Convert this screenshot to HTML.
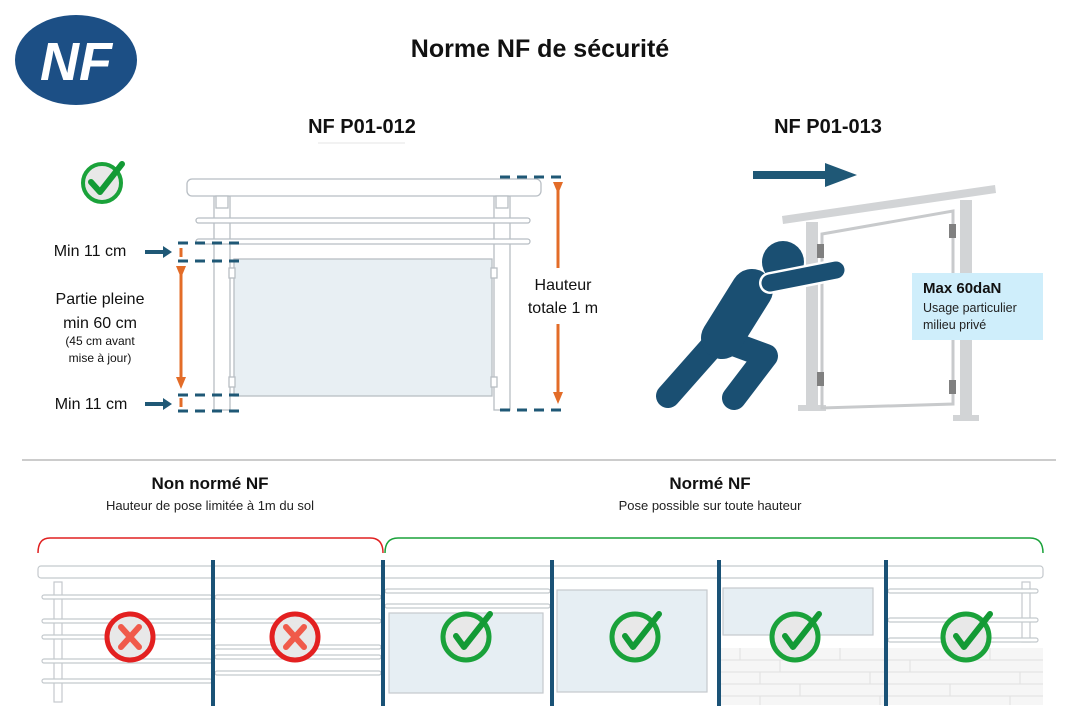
<!DOCTYPE html>
<html><head><meta charset="utf-8"><style>
html,body{margin:0;padding:0;background:#fff;}
svg{display:block;font-family:"Liberation Sans",sans-serif;}
</style></head><body>
<svg width="1080" height="720" viewBox="0 0 1080 720" xmlns="http://www.w3.org/2000/svg">
<defs>
<marker id="ob" markerUnits="userSpaceOnUse" markerWidth="12" markerHeight="12" refX="6" refY="6" orient="auto"><path d="M0,1 L12,6 L0,11 z" fill="#e36c28"/></marker>
</defs>
<!-- logo -->
<ellipse cx="76" cy="60" rx="61" ry="45" fill="#1c4f85"/>
<text x="76" y="80" text-anchor="middle" font-size="54" font-weight="bold" font-style="italic" fill="#fff">NF</text>
<text x="540" y="57" text-anchor="middle" font-size="25" font-weight="bold" fill="#111">Norme NF de sécurité</text>
<text x="362" y="133" text-anchor="middle" font-size="20" font-weight="bold" fill="#111">NF P01-012</text>
<text x="828" y="133" text-anchor="middle" font-size="20" font-weight="bold" fill="#111">NF P01-013</text>
<line x1="318" y1="143" x2="405" y2="143" stroke="#eee" stroke-width="1.5"/>

<!-- check top left -->
<circle cx="102" cy="183" r="19" fill="#e8e8e8" stroke="#1aa23a" stroke-width="4"/>
<path d="M91,182 L100,192 L122,164" fill="none" stroke="#139a35" stroke-width="6" stroke-linecap="round" stroke-linejoin="round"/>

<!-- left railing -->
<g stroke="#b8bec4" fill="#fff" stroke-width="1.3">
<rect x="214" y="196" width="16" height="214"/>
<rect x="494" y="196" width="16" height="214"/>
<rect x="196" y="218" width="334" height="5" rx="2.5"/>
<rect x="196" y="239" width="334" height="5" rx="2.5"/>
<rect x="187" y="179" width="354" height="17" rx="5"/>
<rect x="234" y="259" width="258" height="137" fill="#e8eff3"/>
<rect x="229" y="268" width="6" height="10"/><rect x="229" y="377" width="6" height="10"/>
<rect x="491" y="268" width="6" height="10"/><rect x="491" y="377" width="6" height="10"/>
<rect x="216" y="196" width="12" height="12"/><rect x="496" y="196" width="12" height="12"/>
</g>
<g stroke="#1f5876" stroke-width="3" stroke-dasharray="10,7">
<line x1="178" y1="243" x2="246" y2="243"/>
<line x1="178" y1="261" x2="246" y2="261"/>
<line x1="178" y1="395" x2="246" y2="395"/>
<line x1="178" y1="411" x2="246" y2="411"/>
<line x1="500" y1="177" x2="566" y2="177"/>
<line x1="500" y1="410" x2="566" y2="410"/>
</g>
<g stroke="#e36c28" stroke-width="3">
<line x1="181" y1="248" x2="181" y2="257"/>
<line x1="181" y1="398" x2="181" y2="407"/>
<line x1="181" y1="272" x2="181" y2="383" marker-start="url(#ob)" marker-end="url(#ob)"/>
<line x1="558" y1="188" x2="558" y2="268" marker-start="url(#ob)"/>
<line x1="558" y1="324" x2="558" y2="398" marker-end="url(#ob)"/>
</g>
<g fill="#1f5876"><path d="M145,250 h18 v-4 l9,6 l-9,6 v-4 h-18z"/><path d="M145,402 h18 v-4 l9,6 l-9,6 v-4 h-18z"/></g>
<g font-size="16" fill="#111" text-anchor="middle">
<text x="90" y="256">Min 11 cm</text>
<text x="91" y="409">Min 11 cm</text>
<text x="100" y="304">Partie pleine</text>
<text x="100" y="328">min 60 cm</text>
<text x="100" y="345" font-size="12">(45 cm avant</text>
<text x="100" y="362" font-size="12">mise à jour)</text>
<text x="563" y="290">Hauteur</text>
<text x="563" y="313">totale 1 m</text>
</g>

<!-- right figure -->
<path d="M753,171 h72 v-8 l32,12 l-32,12 v-8 h-72z" fill="#1f5876"/>
<g fill="#d2d4d6">
<rect x="806" y="222" width="12" height="188"/>
<rect x="960" y="200" width="12" height="220"/>
<rect x="798" y="405" width="28" height="6"/><rect x="953" y="415" width="26" height="6"/>
<path d="M782,216 L995,185 L996,193 L783,224z"/>
</g>
<path d="M822,234 L953,211 L953,404 L822,408z" fill="none" stroke="#c8cacc" stroke-width="3"/>
<g fill="#808080"><rect x="817" y="244" width="7" height="14"/><rect x="817" y="372" width="7" height="14"/><rect x="949" y="224" width="7" height="14"/><rect x="949" y="380" width="7" height="14"/></g>
<rect x="912" y="273" width="131" height="67" fill="#cfeefb"/>
<text x="923" y="293" font-size="15" font-weight="bold" fill="#111">Max 60daN</text>
<text x="923" y="312" font-size="12.5" fill="#222">Usage particulier</text>
<text x="923" y="329" font-size="12.5" fill="#222">milieu privé</text>
<!-- person -->
<g stroke="#1a4f72" stroke-linecap="round" stroke-linejoin="round" fill="none">
<path d="M714,344 L668,396" stroke-width="24"/>
<path d="M728,342 L766,356 L734,398" stroke-width="24"/>
<path d="M752,290 L722,338" stroke-width="42"/>
</g>
<circle cx="783" cy="262" r="21" fill="#1a4f72"/>
<path d="M770,283 L836,270" stroke="#fff" stroke-width="22" stroke-linecap="round"/>
<path d="M770,283 L836,270" stroke="#1a4f72" stroke-width="17" stroke-linecap="round"/>

<!-- divider -->
<line x1="22" y1="460" x2="1056" y2="460" stroke="#bbb" stroke-width="1.5"/>
<text x="210" y="489" text-anchor="middle" font-size="17" font-weight="bold" fill="#111">Non normé NF</text>
<text x="210" y="510" text-anchor="middle" font-size="13" fill="#222">Hauteur de pose limitée à 1m du sol</text>
<text x="710" y="489" text-anchor="middle" font-size="17" font-weight="bold" fill="#111">Normé NF</text>
<text x="710" y="510" text-anchor="middle" font-size="13" fill="#222">Pose possible sur toute hauteur</text>
<path d="M38,553 Q38,538 50,538 L370,538 Q383,538 383,553" fill="none" stroke="#e02020" stroke-width="1.5"/>
<path d="M385,553 Q385,538 398,538 L1030,538 Q1043,538 1043,553" fill="none" stroke="#1aa23a" stroke-width="1.5"/>

<!-- bottom railing -->
<rect x="719" y="648" width="324" height="57" fill="#f6f6f6"/>
<g stroke="#e0e0e0" stroke-width="1" fill="none">
<path d="M719,660 H1043 M719,672 H1043 M719,684 H1043 M719,696 H1043"/>
<path d="M740,648 v12 M780,660 v12 M760,672 v12 M800,684 v12 M840,648 v12 M870,672 v12 M910,660 v12 M950,684 v12 M990,648 v12 M1020,672 v12 M1010,696 v9 M760,696 v9 M880,696 v9"/>
</g>
<g stroke="#c4c9cd" fill="#fff" stroke-width="1.2">
<rect x="54" y="582" width="8" height="120"/>
<rect x="1022" y="582" width="8" height="60"/>
<rect x="42" y="595" width="170" height="4" rx="2"/><rect x="42" y="619" width="170" height="4" rx="2"/>
<rect x="42" y="635" width="170" height="4" rx="2"/><rect x="42" y="659" width="170" height="4" rx="2"/>
<rect x="42" y="679" width="170" height="4" rx="2"/>
<rect x="215" y="595" width="166" height="4" rx="2"/><rect x="215" y="619" width="166" height="4" rx="2"/>
<rect x="215" y="645" width="166" height="4" rx="2"/><rect x="215" y="655" width="166" height="4" rx="2"/>
<rect x="215" y="671" width="166" height="4" rx="2"/>
<rect x="385" y="589" width="165" height="4" rx="2"/><rect x="385" y="604" width="165" height="4" rx="2"/>
<rect x="888" y="589" width="150" height="4" rx="2"/><rect x="888" y="618" width="150" height="4" rx="2"/><rect x="888" y="638" width="150" height="4" rx="2"/>
<rect x="389" y="613" width="154" height="80" fill="#e6eef3"/>
<rect x="557" y="590" width="150" height="102" fill="#e6eef3"/>
<rect x="723" y="588" width="150" height="47" fill="#e6eef3"/>
<rect x="38" y="566" width="1005" height="12" rx="3"/>
</g>
<g fill="#1a5276">
<rect x="211" y="560" width="4" height="146"/><rect x="381" y="560" width="4" height="146"/>
<rect x="550" y="560" width="4" height="146"/><rect x="717" y="560" width="4" height="146"/>
<rect x="884" y="560" width="4" height="146"/>
</g>
<g>
<circle cx="130" cy="637" r="23" fill="#e8e8e8" stroke="#e32020" stroke-width="5"/>
<path d="M121,627 L139,647 M139,627 L121,647" stroke="#f05a4a" stroke-width="6" stroke-linecap="round"/>
<circle cx="295" cy="637" r="23" fill="#e8e8e8" stroke="#e32020" stroke-width="5"/>
<path d="M286,627 L304,647 M304,627 L286,647" stroke="#f05a4a" stroke-width="6" stroke-linecap="round"/>
</g>
<g fill="#e8e8e8" stroke="#1aa23a" stroke-width="5">
<circle cx="466" cy="637" r="23"/><circle cx="635" cy="637" r="23"/><circle cx="795" cy="637" r="23"/><circle cx="966" cy="637" r="23"/>
</g>
<g fill="none" stroke="#139a35" stroke-width="6" stroke-linecap="round" stroke-linejoin="round">
<path d="M456,636 L464,647 L490,614"/><path d="M625,636 L633,647 L659,614"/>
<path d="M785,636 L793,647 L819,614"/><path d="M956,636 L964,647 L990,614"/>
</g>
</svg>
</body></html>
